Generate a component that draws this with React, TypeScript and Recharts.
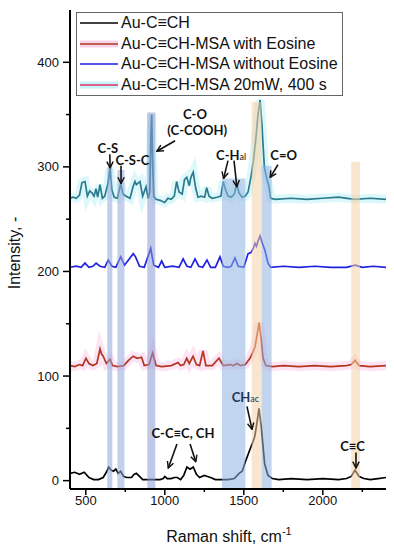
import React from 'react';
import { LineChart, Line, XAxis, YAxis, ReferenceArea, ReferenceLine, ReferenceDot, Legend } from 'recharts';

// Raman spectra (shift in cm-1, intensity in a.u.)
const auCchShift = [400, 430, 460, 490, 520, 550, 580, 610, 630, 645, 660, 675, 690, 705, 720, 740, 760, 790, 805, 820, 840, 860, 900, 940, 970, 990, 1000, 1015, 1040, 1060, 1080, 1100, 1120, 1140, 1160, 1180, 1200, 1220, 1250, 1270, 1290, 1320, 1360, 1400, 1440, 1470, 1490, 1510, 1537, 1555, 1569, 1580, 1596, 1610, 1632, 1653, 1680, 1720, 1800, 1900, 2000, 2100, 2150, 2180, 2204, 2230, 2260, 2300, 2350, 2400];
const auCchIntensity = [7, 8, 6, 8, 3, 1, 1, 3, 8, 13, 10, 9, 11, 7, 9, 4, 3, 3, 6, 7, 4, 1, 1, 1, 1, 2, 4, 2, 2, 3, 3, 1, 5, 13, 11, 13, 6, 3, 5, 4, 3, 1, 1, 1, 2, 7, 9, 18, 29, 36, 42, 52, 69, 52, 16, 5, 2, 1, 2, 1, 2, 1, 2, 4, 10, 4, 2, 1, 2, 3];

const eosineShift = [400, 430, 460, 480, 501, 520, 545, 570, 590, 600, 610, 630, 653, 670, 700, 740, 770, 800, 825, 853, 870, 900, 923, 945, 980, 1040, 1084, 1100, 1120, 1139, 1155, 1179, 1200, 1220, 1242, 1260, 1300, 1343, 1370, 1413, 1435, 1457, 1480, 1510, 1539, 1555, 1571, 1585, 1597, 1610, 1622, 1640, 1680, 1750, 1850, 1950, 2050, 2150, 2180, 2204, 2230, 2300, 2400];
const eosineIntensity = [110, 109, 111, 110, 117, 112, 110, 112, 126, 121, 119, 112, 116, 110, 109, 110, 115, 119, 117, 118, 110, 111, 122, 110, 109, 110, 113, 110, 111, 117, 112, 119, 111, 110, 124, 110, 110, 117, 110, 111, 110, 112, 110, 111, 117, 122, 128, 140, 151, 135, 117, 110, 109, 110, 109, 110, 109, 110, 111, 115, 110, 109, 110];

const noEosineShift = [400, 440, 470, 495, 520, 545, 565, 590, 620, 642, 665, 690, 721, 745, 770, 800, 815, 840, 870, 911, 930, 960, 980, 1000, 1050, 1090, 1116, 1140, 1165, 1191, 1215, 1240, 1267, 1290, 1320, 1349, 1370, 1400, 1420, 1444, 1465, 1500, 1527, 1545, 1560, 1571, 1580, 1590, 1603, 1615, 1634, 1653, 1670, 1750, 1850, 1950, 2050, 2150, 2205, 2250, 2320, 2400];
const noEosineIntensity = [204, 205, 204, 208, 204, 205, 208, 205, 204, 211, 205, 204, 214, 206, 211, 217, 214, 205, 204, 222, 206, 204, 210, 204, 205, 204, 212, 205, 204, 212, 205, 204, 211, 204, 204, 214, 205, 204, 205, 213, 205, 204, 217, 218, 222, 227, 224, 229, 234, 228, 220, 208, 204, 205, 204, 205, 204, 204, 206, 204, 205, 204];

const laserShift = [400, 419, 440, 460, 476, 495, 510, 525, 540, 552, 565, 575, 590, 605, 620, 640, 653, 665, 680, 700, 721, 735, 755, 780, 799, 811, 820, 843, 860, 881, 895, 905, 912, 917, 922, 930, 944, 970, 999, 1020, 1040, 1060, 1075, 1090, 1110, 1125, 1139, 1155, 1165, 1180, 1195, 1210, 1230, 1252, 1265, 1280, 1300, 1330, 1355, 1370, 1385, 1400, 1420, 1440, 1455, 1470, 1490, 1510, 1527, 1545, 1560, 1575, 1590, 1603, 1615, 1630, 1645, 1658, 1670, 1700, 1800, 1900, 2000, 2100, 2200, 2300, 2400];
const laserIntensity = [270, 271, 270, 273, 285, 286, 272, 277, 275, 272, 279, 271, 283, 270, 272, 284, 298, 278, 271, 270, 284, 274, 272, 270, 281, 286, 283, 286, 272, 281, 270, 276, 330, 350, 310, 272, 269, 268, 266, 270, 269, 272, 286, 276, 274, 288, 290, 282, 290, 295, 280, 271, 272, 271, 280, 272, 270, 271, 272, 286, 278, 272, 271, 274, 284, 275, 271, 272, 276, 290, 305, 325, 350, 364, 340, 300, 289, 282, 270, 269, 270, 269, 270, 271, 269, 270, 269];

const xTicks = [500, 750, 1000, 1250, 1500, 1750, 2000, 2250];
const yTicks = [0, 50, 100, 150, 200, 250, 300, 350, 400];

// assignment bands: shift range and top of the band
const bandNames = ['C-S', 'C-S-C', 'C-O', 'C-Hal', 'CHac', 'C=O', 'C≡C'];
const bandFrom = [636, 700, 889, 1362, 1550, 1613, 2180];
const bandTo = [668, 745, 940, 1510, 1613, 1676, 2235];
const bandTop = [300, 297, 352, 289, 362, 301, 305];

const toPoints = (xs: number[], ys: number[]) => xs.map((x, i) => ({ x, y: ys[i] }));

const series = [
  { name: 'Au-C≡CH', data: toPoints(auCchShift, auCchIntensity), color: '#000000', glow: null as string | null, legendColor: '#000000' },
  { name: 'Au-C≡CH-MSA with Eosine', data: toPoints(eosineShift, eosineIntensity), color: '#b3361f', glow: '#fbd2ec', legendColor: '#a8401f' },
  { name: 'Au-C≡CH-MSA without Eosine', data: toPoints(noEosineShift, noEosineIntensity), color: '#1f22e0', glow: null, legendColor: '#1f22e0' },
  { name: 'Au-C≡CH-MSA 20mW, 400 s', data: toPoints(laserShift, laserIntensity), color: '#2b7a8e', glow: '#c6f4f6', legendColor: '#e0306a' },
];

const bandStyle: Record<string, string> = {
  'C-S': '#8ea8da',
  'C-S-C': '#93aadb',
  'C-O': '#8a9bd2',
  'C-Hal': '#90b3e0',
  'CHac': '#f3d2a6',
  'C=O': '#90b0e0',
  'C≡C': '#f3d2a6',
};

// text labels at data positions, and arrows [x1, y1, x2, y2]
const labels = [
  { text: 'C-S', sub: '', x: 640, y: 318 },
  { text: 'C-S-C', sub: '', x: 795, y: 306 },
  { text: 'C-O', sub: '', x: 1191, y: 350 },
  { text: '(C-COOH)', sub: '', x: 1205, y: 335 },
  { text: 'C-H', sub: 'al', x: 1420, y: 311 },
  { text: 'C=O', sub: '', x: 1752, y: 311 },
  { text: 'CH', sub: 'ac', x: 1510, y: 80 },
  { text: 'C-C≡C, CH', sub: '', x: 1115, y: 45 },
  { text: 'C≡C', sub: '', x: 2188, y: 33 },
];
const arrows = [
  [652, 312, 654, 299],
  [723, 301, 723, 284],
  [1065, 325, 950, 315],
  [1400, 306, 1372, 289],
  [1438, 306, 1456, 281],
  [1716, 302, 1667, 290],
  [1520, 71, 1552, 49],
  [1077, 35, 1022, 12],
  [1160, 35, 1196, 18],
  [2210, 27, 2210, 12],
];

const tickFont = '"Liberation Sans", Arial, sans-serif';
const labelFont = 'Lato, "Open Sans", sans-serif';

const YTick = (props: any) => {
  const { x, y, payload } = props;
  const major = payload.value % 100 === 0;
  return (
    <g>
      <line x1={x} x2={x - (major ? 7 : 4)} y1={y} y2={y} stroke="#000" strokeWidth={1.5} />
      {major && (
        <text x={x - 11} y={y} dy="0.35em" textAnchor="end" fontSize={13} fontFamily={tickFont} fill="#111">
          {payload.value}
        </text>
      )}
    </g>
  );
};

const XTick = (props: any) => {
  const { x, y, payload } = props;
  const major = payload.value % 500 === 0;
  return (
    <g>
      <line x1={x} x2={x} y1={y} y2={y + (major ? 6 : 3)} stroke="#000" strokeWidth={1.5} />
      {major && (
        <text x={x} y={y + 16} textAnchor="middle" fontSize={13} fontFamily={tickFont} fill="#111">
          {payload.value}
        </text>
      )}
    </g>
  );
};

const LegendBox = () => (
  <div
    style={{
      background: '#fff',
      border: '1px solid #666',
      padding: '0 4px 0 3px',
      fontFamily: tickFont,
      fontSize: 16,
      lineHeight: '20.5px',
      color: '#111',
    }}
  >
    {series.map((s) => (
      <div key={s.name} style={{ display: 'flex', alignItems: 'center', whiteSpace: 'nowrap' }}>
        <svg width={38} height={12} style={{ marginRight: 3 }}>
          {s.glow && <line x1={0} x2={38} y1={6} y2={6} stroke={s.glow} strokeWidth={7} />}
          <line x1={0} x2={38} y1={6} y2={6} stroke={s.legendColor} strokeWidth={1.6} />
        </svg>
        <span>{s.name}</span>
      </div>
    ))}
  </div>
);

export default function App() {
  return (
    <div style={{ position: 'absolute', left: 0, top: 0, width: 394, height: 550, background: '#fff' }}>
      <LineChart width={394} height={550} margin={{ top: 10, right: 8, left: 0, bottom: 0 }}>
        <defs>
          <marker id="arrowHead" viewBox="0 0 10 10" refX="9" refY="5" markerWidth="8" markerHeight="8" markerUnits="userSpaceOnUse" orient="auto">
            <path d="M1,1 L9,5 L1,9" fill="none" stroke="context-stroke" strokeWidth={1.8} />
          </marker>
        </defs>
        <XAxis
          dataKey="x"
          type="number"
          domain={[400, 2400]}
          ticks={xTicks}
          interval={0}
          height={61}
          tickSize={0}
          tickMargin={0}
          tickLine={false}
          tick={<XTick />}
          axisLine={{ stroke: '#000', strokeWidth: 2 }}
          allowDataOverflow
        />
        <XAxis xAxisId="top" orientation="top" dataKey="x" type="number" domain={[400, 2400]} height={0} tick={false} tickLine={false} axisLine={{ stroke: '#000', strokeWidth: 2 }} />
        <YAxis
          type="number"
          domain={[-8, 450]}
          ticks={yTicks}
          interval={0}
          width={70}
          tickSize={0}
          tickMargin={0}
          tickLine={false}
          tick={<YTick />}
          axisLine={{ stroke: '#000', strokeWidth: 2 }}
          allowDataOverflow
        />
        <YAxis yAxisId="right" orientation="right" type="number" domain={[-8, 450]} width={0} tick={false} tickLine={false} axisLine={{ stroke: '#000', strokeWidth: 2 }} />

        {series.map((s) =>
          s.glow ? (
            <Line
              key={s.name + '-glow'}
              data={s.data}
              dataKey="y"
              type="linear"
              stroke={s.glow}
              strokeWidth={9}
              strokeOpacity={0.6}
              dot={false}
              activeDot={false}
              legendType="none"
              isAnimationActive={false}
            />
          ) : null
        )}
        {series.map((s) => (
          <Line
            key={s.name}
            name={s.name}
            data={s.data}
            dataKey="y"
            type="linear"
            stroke={s.color}
            strokeWidth={1.7}
            dot={false}
            activeDot={false}
            isAnimationActive={false}
          />
        ))}

        {bandNames.map((n, i) => (
          <ReferenceArea
            key={n}
            x1={bandFrom[i]}
            x2={bandTo[i]}
            y1={-8}
            y2={bandTop[i]}
            fill={bandStyle[n]}
            fillOpacity={0.55}
            stroke="none"
            zIndex={450}
          />
        ))}

        {arrows.map((a, i) => (
          <ReferenceLine
            key={'arrow' + i}
            segment={[{ x: a[0], y: a[1] }, { x: a[2], y: a[3] }]}
            stroke="#111"
            strokeWidth={1.6}
            zIndex={600}
            shape={(p: any) => (
              <line x1={p.x1} y1={p.y1} x2={p.x2} y2={p.y2} stroke="#111" strokeWidth={1.6} markerEnd="url(#arrowHead)" />
            )}
          />
        ))}

        {labels.map((l) => (
          <ReferenceDot
            key={l.text}
            x={l.x}
            y={l.y}
            r={0}
            zIndex={600}
            shape={(p: any) => (
              <text
                x={p.cx}
                y={p.cy}
                dy="0.35em"
                textAnchor="middle"
                fontFamily={labelFont}
                fontWeight={700}
                fontSize={13}
                fill={l.text === 'CH' ? '#1d3557' : '#111'}
              >
                {l.text}
                {l.sub && (
                  <tspan fontSize={9} fontWeight={400}>
                    {l.sub}
                  </tspan>
                )}
              </text>
            )}
          />
        ))}

        <Legend
          layout="vertical"
          align="center"
          verticalAlign="middle"
          content={() => <LegendBox />}
          wrapperStyle={{ top: 12, left: 76, width: 'auto', height: 'auto' }}
        />

        <text x={20} y={253} transform="rotate(-90 20 253)" textAnchor="middle" fontFamily={tickFont} fontSize={16} fill="#111">
          Intensity, -
        </text>
        <text x={229} y={542} textAnchor="middle" fontFamily={tickFont} fontSize={16} fill="#111">
          Raman shift, cm
          <tspan fontSize={11} dy={-7}>
            -1
          </tspan>
        </text>
      </LineChart>
    </div>
  );
}
